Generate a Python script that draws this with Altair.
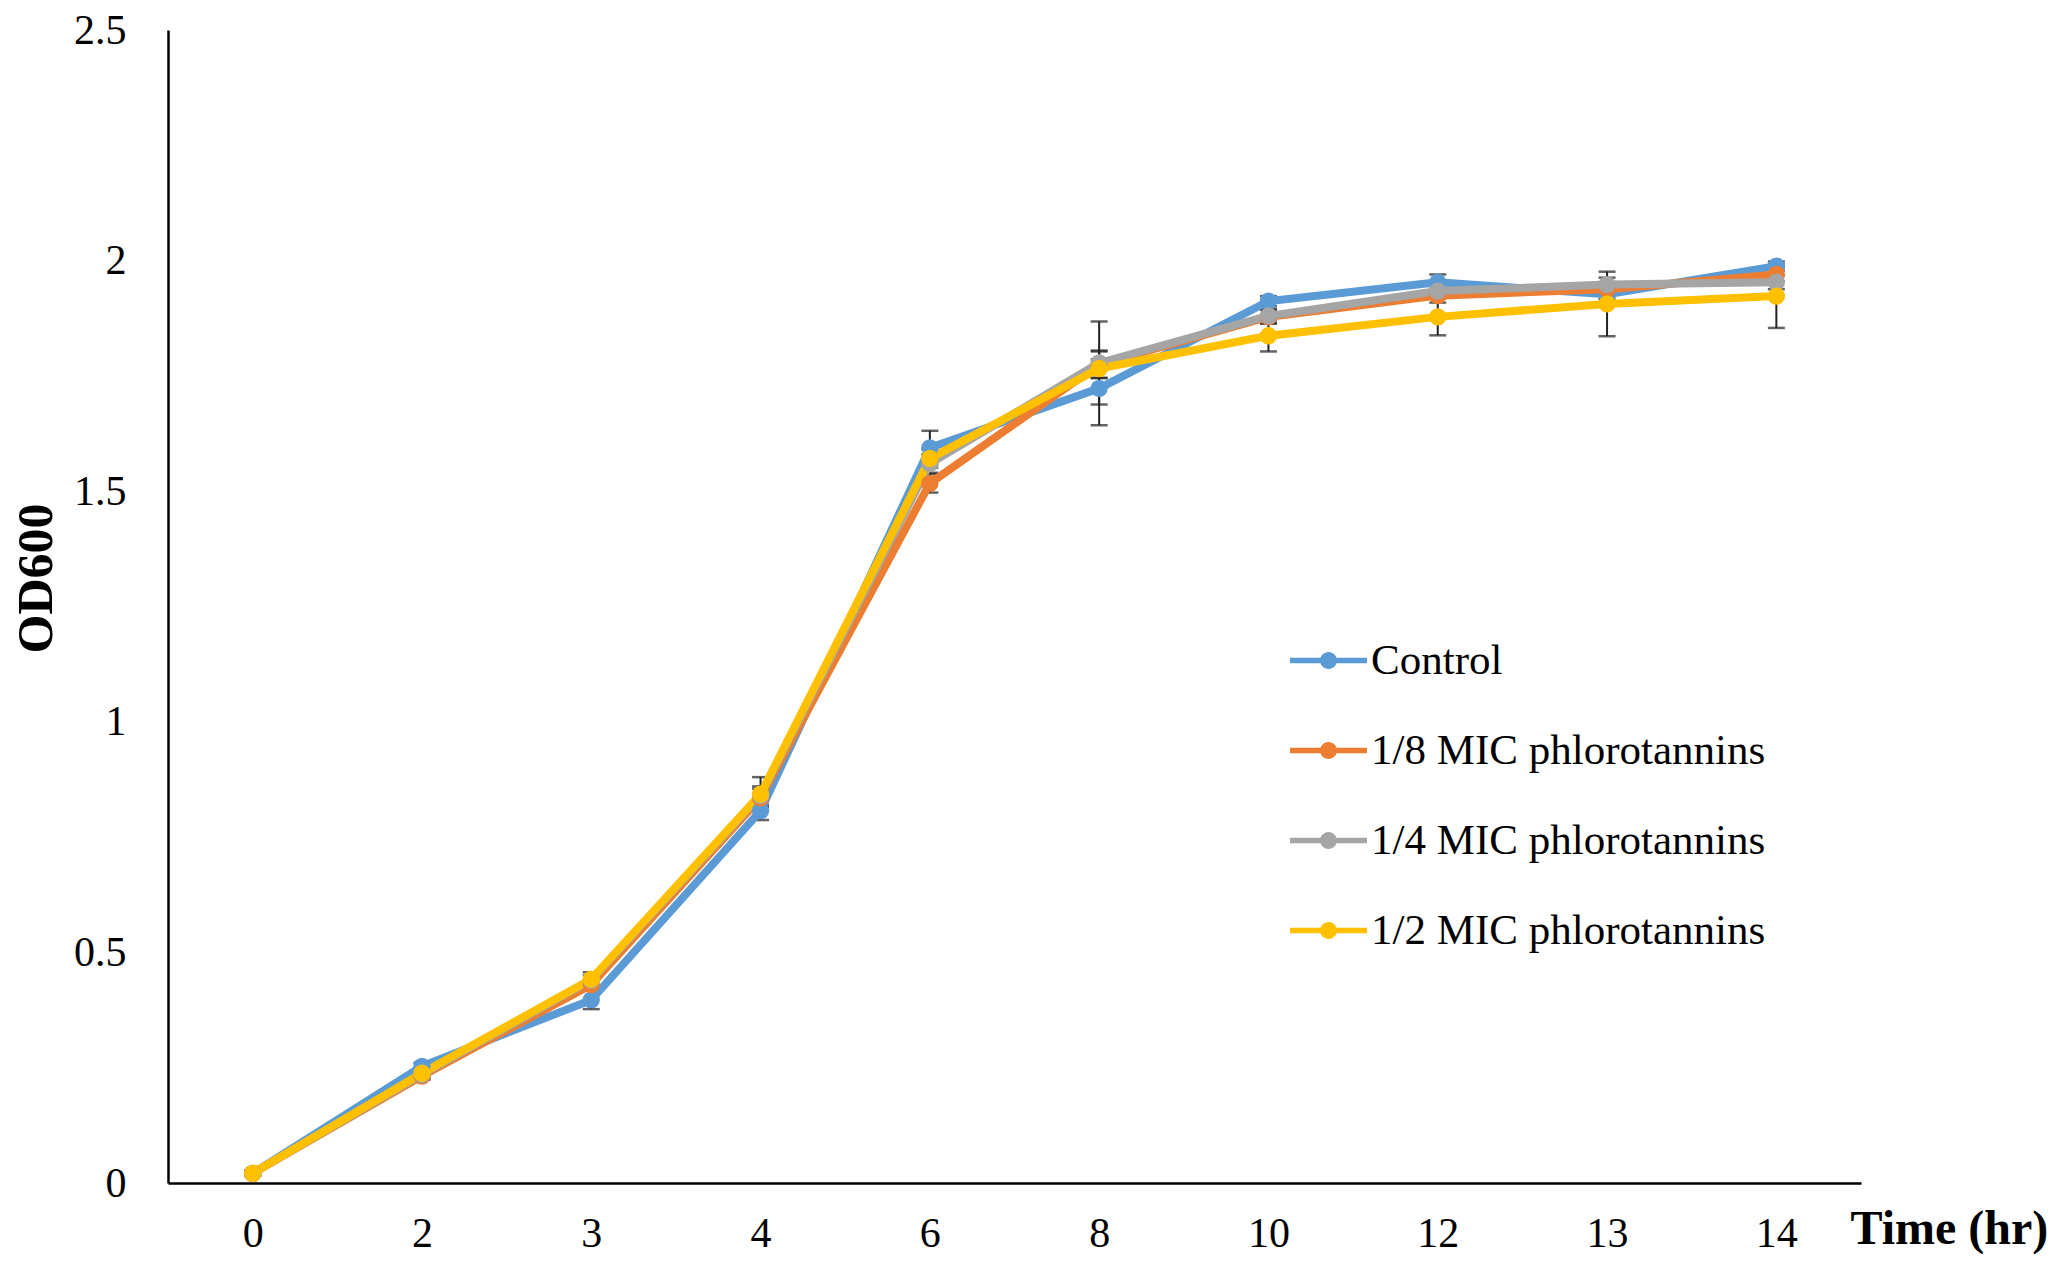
import altair as alt
import pandas as pd

times = ["0", "2", "3", "4", "6", "8", "10", "12", "13", "14"]
series_names = ["Control", "1/8 MIC phlorotannins", "1/4 MIC phlorotannins", "1/2 MIC phlorotannins"]
series_colors = ["#5B9BD5", "#ED7D31", "#A5A5A5", "#FFC000"]

control = [0.021, 0.253, 0.397, 0.807, 1.594, 1.723, 1.912, 1.953, 1.927, 1.988]
mic_1_8 = [0.021, 0.232, 0.430, 0.835, 1.517, 1.775, 1.878, 1.924, 1.938, 1.970]
mic_1_4 = [0.021, 0.235, 0.440, 0.840, 1.560, 1.778, 1.880, 1.934, 1.948, 1.953]
mic_1_2 = [0.021, 0.238, 0.442, 0.843, 1.571, 1.766, 1.837, 1.878, 1.906, 1.923]

err_control = [0.005, 0.008, 0.020, 0.020, 0.037, 0.080, 0.011, 0.017, 0.010, 0.010]
err_1_8 = [0.005, 0.008, 0.010, 0.020, 0.020, 0.030, 0.015, 0.015, 0.015, 0.015]
err_1_4 = [0.005, 0.008, 0.010, 0.020, 0.020, 0.090, 0.015, 0.015, 0.015, 0.015]
err_1_2 = [0.005, 0.008, 0.015, 0.037, 0.020, 0.020, 0.034, 0.040, 0.070, 0.069]

values = [control, mic_1_8, mic_1_4, mic_1_2]
errors = [err_control, err_1_8, err_1_4, err_1_2]

rows = []
for si, name in enumerate(series_names):
    for ti, t in enumerate(times):
        v = values[si][ti]
        e = errors[si][ti]
        rows.append({"time": t, "series": name, "order": si, "od": v,
                     "lo": v - e, "hi": v + e})
df = pd.DataFrame(rows)

FONT = "Liberation Serif"

x_enc = alt.X("time:N", sort=times,
              scale=alt.Scale(type="point", padding=0.5),
              axis=alt.Axis(title="Time (hr)", labelAngle=0, ticks=False,
                            labelFont=FONT, labelFontSize=42, labelColor="black",
                            labelBaseline="middle", labelPadding=50,
                            domainColor="black", domainWidth=2.5, grid=False,
                            titleFont=FONT, titleFontSize=48, titleFontWeight="bold",
                            titleColor="black", titleAlign="left", titleBaseline="middle",
                            titleAnchor="start", titleX=1682, titleY=46, titleAngle=0))
y_scale = alt.Scale(domain=[0, 2.5], nice=False)
y_axis = alt.Axis(title="OD600", values=[0, 0.5, 1, 1.5, 2, 2.5], format="~g",
                  ticks=False, grid=False, labelFont=FONT, labelFontSize=42,
                  labelColor="black", labelPadding=42, domainColor="black",
                  domainWidth=2.5, titleFont=FONT, titleFontSize=50,
                  titleFontWeight="bold", titleColor="black", titleAngle=-90,
                  titleAlign="center", titleBaseline="middle",
                  titleX=-132, titleY=548)

color_scale = alt.Scale(domain=series_names, range=series_colors)

legend_path = ("M-1,-0.07 L-0.2,-0.07 L-0.2,0.07 L-1,0.07 Z "
               "M0.2,-0.07 L1,-0.07 L1,0.07 L0.2,0.07 Z "
               "M0.22,0 A0.22,0.22 0 1,1 -0.22,0 A0.22,0.22 0 1,1 0.22,0 Z")

legend = alt.Legend(title=None, orient="none", legendX=1122, legendY=592,
                    symbolType=legend_path, symbolSize=5929, symbolStrokeWidth=0,
                    symbolOpacity=1, labelFont=FONT, labelFontSize=43,
                    labelColor="black", labelLimit=700, labelOffset=4,
                    rowPadding=29, padding=0)

base = alt.Chart(df)

err_rule = base.mark_rule(color="#222222", strokeWidth=2).encode(
    x=x_enc, y=alt.Y("lo:Q", scale=y_scale, axis=y_axis), y2="hi:Q")
cap_lo = base.mark_tick(color="#222222", thickness=2.5, size=17).encode(
    x=x_enc, y=alt.Y("lo:Q", scale=y_scale))
cap_hi = base.mark_tick(color="#222222", thickness=2.5, size=17).encode(
    x=x_enc, y=alt.Y("hi:Q", scale=y_scale))

line_layers = []
for name, col in zip(series_names, series_colors):
    line_layers.append(
        base.transform_filter(alt.datum.series == name)
        .mark_line(strokeWidth=8, strokeJoin="round", color=col)
        .encode(x=x_enc, y=alt.Y("od:Q", scale=y_scale))
    )

points = base.mark_point(filled=True, size=300, opacity=1).encode(
    x=x_enc, y=alt.Y("od:Q", scale=y_scale),
    color=alt.Color("series:N", scale=color_scale, legend=legend),
    order="order:Q")

chart = alt.layer(err_rule, cap_lo, cap_hi, *line_layers, points).properties(
    width=1693, height=1153,
    padding={"left": 160, "top": 22, "right": 198, "bottom": 71},
    autosize=alt.AutoSizeParams(type="none"),
    background="white",
).configure_view(stroke=None)

chart.save("out.html", embed_options={"renderer": "svg", "actions": False})
